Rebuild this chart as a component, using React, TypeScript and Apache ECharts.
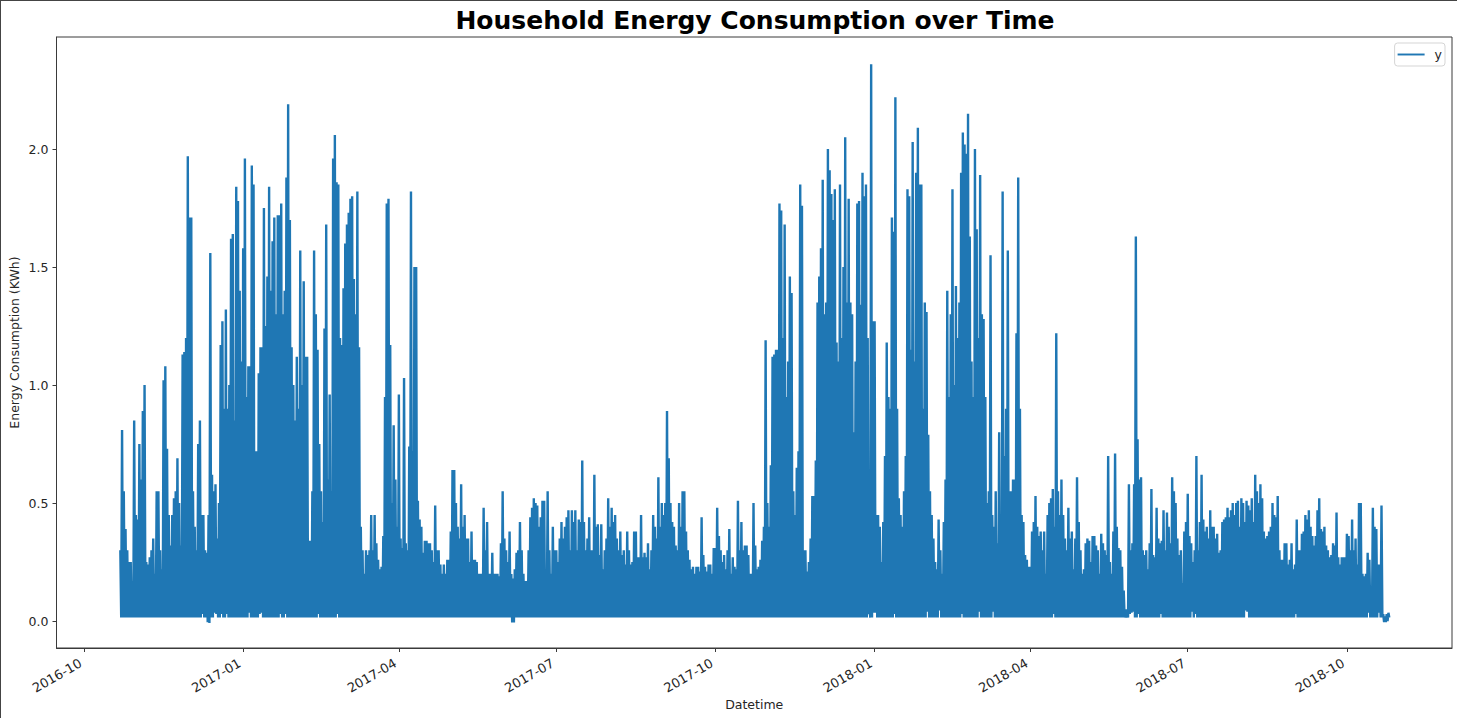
import React, { useEffect, useRef } from "react";
import * as echarts from "echarts";

const firstDay = Date.UTC(2016, 9, 22);
const tickMonths = ["2016-10", "2017-01", "2017-04", "2017-07", "2017-10", "2018-01", "2018-04", "2018-07", "2018-10"];
const yTicks = [0, 0.5, 1, 1.5, 2];

// Highest reading of each day, month by month (kWh)
const oct16 = [.30,.81,.55,.39,.30,.25,.25,.17,.85,.45];
const nov16 = [.43,.75,.60,.89,1.0,.25,.24,.27,.30,.35,.20,.55,.55,.30,.22,1.02,1.08,.73,.45,.32,.45,.52,.55,.69,.50,.32,1.13,1.14,1.20,1.97];
const dec16 = [1.71,1.71,.55,.40,.30,.75,.85,.45,.45,.30,.29,.45,1.56,.62,.55,.58,.35,.50,1.17,1.27,.90,1.32,.90,1.0,1.62,1.64,.85,1.84,1.78,1.40,1.10];
const jan17 = [1.58,1.96,.95,1.08,1.08,1.93,1.85,.72,.72,1.05,1.16,1.16,1.75,1.25,1.46,1.84,1.40,1.61,1.71,1.30,1.72,1.72,1.77,1.30,1.40,1.88,2.19,1.70,1.16,1.0,.85];
const feb17 = [1.12,.90,1.57,1.0,1.44,1.12,1.12,.34,.34,.55,1.57,1.30,1.15,.75,.55,.42,1.24,1.68,.60,.96,.55,1.96,2.06,1.86,1.85,1.20,1.17,1.41];
const mar17 = [1.60,1.68,1.73,1.79,1.80,1.45,1.30,1.82,1.16,.40,.30,.20,.30,.28,.30,.45,.30,.45,.33,.26,.22,.23,.36,.95,1.77,1.79,1.17,.50,.83,.60,.40];
const apr17 = [.96,.35,.31,1.03,.33,.30,.74,1.82,.72,1.50,1.50,.51,.43,.40,.29,.34,.34,.33,.33,.30,.25,.49,.30,.30,.24,.20,.24,.20,.26,.26];
const may17 = [.38,.64,.64,.50,.40,.35,.58,.40,.45,.35,.35,.25,.38,.26,.26,.25,.20,.20,.20,.48,.30,.42,.20,.20,.29,.20,.20,.20,.19,.33,.55];
const jun17 = [.35,.30,.25,.38,.20,.18,.22,.29,.30,.42,.30,.20,.17,.17,.30,.44,.48,.52,.50,.49,.40,.44,.51,.51,.20,.55,.30,.20,.40,.30];
const jul17 = [.30,.25,.35,.42,.35,.40,.44,.47,.30,.47,.42,.47,.30,.43,.42,.68,.42,.30,.35,.44,.30,.30,.62,.40,.41,.28,.41,.22,.30,.35,.52];
const aug17 = [.40,.48,.42,.45,.35,.30,.38,.28,.30,.24,.38,.30,.24,.25,.38,.38,.27,.27,.45,.27,.29,.27,.33,.22,.30,.45,.40,.35,.61,.40,.50];
const sep17 = [.45,.50,.89,.69,.50,.42,.40,.32,.30,.50,.40,.55,.55,.38,.30,.26,.22,.23,.20,.23,.23,.21,.44,.28,.23,.21,.24,.24,.20,.31];
const oct17 = [.31,.48,.36,.30,.25,.28,.22,.30,.39,.20,.27,.23,.22,.51,.30,.42,.30,.32,.32,.28,.20,.20,.50,.32,.22,.23,.26,.34,.40,1.19,.50];
const nov17 = [.40,.66,1.12,1.13,1.15,1.15,1.77,1.74,1.20,1.68,.95,1.10,1.46,1.39,.55,.45,.65,.72,1.85,1.76,.30,.30,.21,.25,.35,.53,.53,.68,1.35,1.46];
const dec17 = [1.58,1.87,1.30,1.35,2.0,1.91,1.81,1.70,1.83,1.18,1.10,1.85,1.20,1.50,2.05,1.35,1.79,1.35,1.30,.80,1.10,1.77,1.78,1.34,1.90,1.80,1.85,1.20,.07,2.36,1.27];
const jan18 = [1.27,.45,.45,.40,.25,.42,.70,1.18,.95,.90,1.71,1.65,2.22,.90,.52,.45,.40,.55,.70,1.83,1.80,1.15,2.03,1.10,1.90,2.09,1.85,1.85,.90,1.35,1.31];
const feb18 = [.79,.55,.45,.35,.25,.22,.43,.30,.20,.42,.60,1.40,.95,1.30,1.83,1.0,1.42,1.20,1.35,1.90,2.07,2.02,1.98,2.15,1.63,1.10,.95,2.0];
const mar18 = [1.66,1.20,1.89,1.30,1.28,.95,.50,.55,1.55,.45,.40,.55,.33,.80,.30,1.82,.70,.90,1.57,.55,.55,.60,.60,1.22,1.88,.90,.45,.42,.28,.26,.23];
const apr18 = [.23,.38,.42,.53,.40,.36,.38,.30,.38,.20,.45,.50,.52,.56,.40,1.22,.55,.45,.60,.45,.35,.30,.48,.35,.38,.22,.35,.61,.42,.30];
const may18 = [.20,.22,.33,.35,.34,.25,.36,.36,.32,.30,.20,.37,.33,.30,.28,.70,.25,.20,.38,.71,.40,.31,.30,.23,.13,.05,.05,.58,.30,.33,.58];
const jun18 = [1.63,.77,.60,.61,.30,.28,.30,.22,.33,.56,.28,.27,.48,.35,.33,.34,.47,.30,.46,.40,.33,.61,.55,.50,.35,.28,.30,.16,.38,.42];
const jul18 = [.54,.36,.33,.25,.30,.70,.30,.42,.62,.43,.38,.40,.35,.47,.40,.40,.35,.37,.29,.30,.42,.43,.44,.48,.44,.47,.50,.45,.50,.51,.40];
const aug18 = [.52,.50,.42,.51,.49,.47,.52,.42,.62,.55,.50,.58,.52,.38,.35,.36,.38,.40,.50,.45,.44,.53,.30,.26,.26,.33,.33,.24,.26,.33,.22];
const sep18 = [.24,.43,.30,.30,.37,.38,.45,.43,.47,.40,.36,.32,.36,.47,.52,.39,.38,.40,.32,.30,.27,.28,.33,.32,.46,.27,.24,.27,.27,.27];
const oct18 = [.37,.36,.30,.43,.30,.35,.24,.50,.50,.20,.19,.20,.29,.26,.14,.48,.40,.39,.24,.24,.49,.03,.02,.03,.035];

const dailyPeaks = [...oct16, ...nov16, ...dec16, ...jan17, ...feb17, ...mar17, ...apr17, ...may17, ...jun17, ...jul17, ...aug17, ...sep17, ...oct17, ...nov17, ...dec17, ...jan18, ...feb18, ...mar18, ...apr18, ...may18, ...jun18, ...jul18, ...aug18, ...sep18, ...oct18];

// Lowest reading: the usual night-time floor, then the days that sit visibly off it
const usualLow = 0.015;
const lowExceptions: [string, number][] = [
  ["2016-12-08", 0.03], ["2016-12-11", -0.005], ["2016-12-12", -0.008], ["2016-12-15", 0.035], ["2016-12-16", 0.03],
  ["2016-12-19", 0.03], ["2016-12-22", 0.03], ["2017-01-04", 0.035], ["2017-01-10", 0.03], ["2017-01-11", 0.035],
  ["2017-01-22", 0.03], ["2017-01-25", 0.03], ["2017-02-13", 0.03], ["2017-02-24", 0.03], ["2017-06-05", -0.006],
  ["2017-06-06", -0.006], ["2017-12-28", 0.03], ["2017-12-31", 0.035], ["2018-01-01", 0.035], ["2018-01-12", 0.03],
  ["2018-01-31", 0.04], ["2018-02-07", 0.045], ["2018-02-20", 0.03], ["2018-03-02", 0.04], ["2018-03-10", 0.04],
  ["2018-04-14", 0.03], ["2018-05-28", 0.03], ["2018-05-29", 0.035], ["2018-05-30", 0.04], ["2018-06-02", 0.03],
  ["2018-06-15", 0.03], ["2018-07-03", 0.04], ["2018-07-05", 0.03], ["2018-08-03", 0.045], ["2018-08-04", 0.04],
  ["2018-09-01", 0.03], ["2018-10-13", 0.035], ["2018-10-19", 0.035], ["2018-10-22", -0.004], ["2018-10-23", -0.004], ["2018-10-24", 0.0],
];

const DAY = 86400000;
const lowByDay = new Map(lowExceptions.map(([d, v]) => [Date.parse(d + "T00:00:00Z"), v]));
const lineData: [number, number][] = [];
dailyPeaks.forEach((peak, i) => {
  const t = firstDay + i * DAY;
  lineData.push([t, peak]);
  lineData.push([t + DAY / 2, lowByDay.has(t) ? (lowByDay.get(t) as number) : usualLow]);
});

const monthToTime = (m: string) => Date.parse(m + "-01T00:00:00Z");
const xTicks = tickMonths.map(monthToTime);
const FONT = "DejaVu Sans";
const INK = "#262626";

export default function App() {
  const ref = useRef<HTMLDivElement>(null);
  useEffect(() => {
    const chart = echarts.init(ref.current as HTMLDivElement, undefined, { renderer: "svg" });
    chart.setOption({
      animation: false,
      backgroundColor: "#ffffff",
      textStyle: { fontFamily: FONT },
      title: {
        text: "Household Energy Consumption over Time",
        left: 750,
        top: 3,
        textAlign: "center",
        textStyle: { fontFamily: FONT, fontWeight: "bold", fontSize: 25, color: "#000000" },
      },
      legend: {
        data: ["y"],
        right: 12,
        top: 43,
        itemWidth: 27,
        itemHeight: 10,
        itemGap: 0,
        padding: [5, 3, 5, 3],
        borderColor: "#d5d5d5",
        borderWidth: 1,
        borderRadius: 3,
        backgroundColor: "#ffffff",
        icon: "path://M0 0H28V2H0Z",
        textStyle: { fontFamily: FONT, fontSize: 12.5, color: INK, padding: [0, 2, 0, 5] },
      },
      grid: { left: 56.5, right: 5, top: 37, bottom: 70, outerBoundsMode: "none", show: true, borderColor: "#3a3a3a", borderWidth: 1, backgroundColor: "transparent" },
      xAxis: {
        type: "value",
        min: Date.UTC(2016, 9, 1) - 15.9 * DAY,
        max: Date.UTC(2016, 9, 1) + 790.75 * DAY,
        name: "Datetime",
        nameLocation: "middle",
        nameGap: 50,
        nameMoveOverlap: false,
        nameTextStyle: { fontFamily: FONT, fontSize: 12.5, color: INK },
        splitLine: { show: false },
        axisLine: { show: true, onZero: false, lineStyle: { color: "#3a3a3a", width: 1 } },
        axisTick: { show: true, length: 4, customValues: xTicks, lineStyle: { color: "#3a3a3a" } },
        axisLabel: {
          customValues: xTicks,
          rotate: 30,
          margin: 12,
          padding: [0, 4, 0, 0],
          hideOverlap: false,
          fontFamily: FONT,
          fontSize: 13,
          color: INK,
          formatter: (v: number) => tickMonths[xTicks.indexOf(v)] ?? "",
        },
      },
      yAxis: {
        type: "value",
        min: -0.114,
        max: 2.475,
        name: "Energy Consumption (KWh)",
        nameLocation: "middle",
        nameGap: 36,
        nameMoveOverlap: false,
        nameTextStyle: { fontFamily: FONT, fontSize: 12.5, color: INK },
        splitLine: { show: false },
        axisLine: { show: true, onZero: false, lineStyle: { color: "#3a3a3a", width: 1 } },
        axisTick: { show: true, length: 4, customValues: yTicks, lineStyle: { color: "#3a3a3a" } },
        axisLabel: {
          customValues: yTicks,
          margin: 8,
          fontFamily: FONT,
          fontSize: 12.5,
          color: INK,
          formatter: (v: number) => v.toFixed(1),
        },
      },
      series: [
        {
          name: "y",
          type: "line",
          data: lineData,
          showSymbol: false,
          symbol: "none",
          sampling: undefined,
          progressive: 0,
          lineStyle: { color: "#1f77b4", width: 2.4 },
          itemStyle: { color: "#1f77b4" },
        },
      ],
      graphic: [
        { type: "line", silent: true, shape: { x1: 0, y1: 0.5, x2: 1457, y2: 0.5 }, style: { stroke: "#444444", lineWidth: 1 } },
        { type: "line", silent: true, shape: { x1: 0.5, y1: 0, x2: 0.5, y2: 718 }, style: { stroke: "#444444", lineWidth: 1 } },
      ],
    });
    return () => chart.dispose();
  }, []);
  return <div ref={ref} style={{ position: "absolute", left: 0, top: 0, width: 1457, height: 718 }} />;
}
